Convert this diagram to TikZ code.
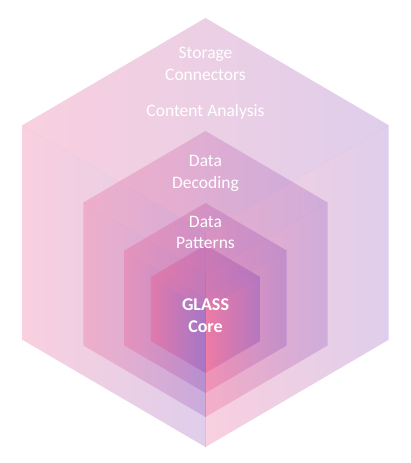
\documentclass[tikz,border=0pt]{standalone}
\usepackage{fontspec}
\setmainfont{Carlito}
\usepackage{tikz}
\usetikzlibrary{positioning}
\definecolor{glasspink}{RGB}{236,100,150}
\definecolor{glassviolet}{RGB}{150,95,190}

\begin{document}
\begin{tikzpicture}[
  x=1pt, y=-1pt,
  face/.style={left color=glasspink, right color=glassviolet, fill opacity=#1},
  face/.default=0.3,
  label/.style={text=white, font=\fontsize{17.5}{21.5}\selectfont, align=center},
  corelabel/.style={label, font=\fontsize{18}{21.5}\selectfont\bfseries}
]
  \useasboundingbox[fill=white] (0,0) rectangle (410,463);

  % Cubes, outer to inner: centre y / half height / opacity
  \foreach \cy/\r/\op in {232.5/214.5/0.3, 274/143/0.3, 298/95/0.36, 309/64/0.5}{
    \pgfmathsetmacro{\w}{0.854*\r}
    \coordinate (c)  at (205.5,\cy);
    \coordinate (t)  at (205.5,\cy-\r);
    \coordinate (b)  at (205.5,\cy+\r);
    \coordinate (ul) at (205.5-\w,\cy-\r/2);
    \coordinate (ll) at (205.5-\w,\cy+\r/2);
    \coordinate (ur) at (205.5+\w,\cy-\r/2);
    \coordinate (lr) at (205.5+\w,\cy+\r/2);
    \shade[face=\op] (t) -- (ul) -- (c) -- (ur) -- cycle;
    \shade[face=\op] (ul) -- (ll) -- (b) -- (c) -- cycle;
    \shade[face=\op] (c) -- (b) -- (lr) -- (ur) -- cycle;
  }

  % Labels
  \node[label] (storage)  at (205.5,64)    {Storage\\Connectors};
  \node[label] (content)  at (205.5,112)   {Content Analysis};
  \node[label] (decoding) at (205.5,173.5) {Data\\Decoding};
  \node[label] (patterns) at (205.5,232.5) {Data\\Patterns};
  \node[corelabel] (core) at (205.5,315.5) {GLASS\\Core};
\end{tikzpicture}
\end{document}
